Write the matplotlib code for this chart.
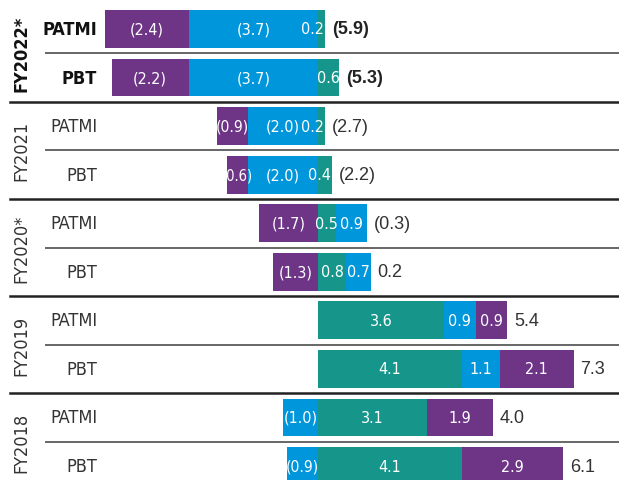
import matplotlib
matplotlib.use('Agg')
import matplotlib.pyplot as plt
import matplotlib.transforms as mtransforms

# ---- data ----
groups = ['FY2022*', 'FY2021', 'FY2020*', 'FY2019', 'FY2018']
metrics = ['PATMI', 'PBT']
# rows: (FY2022 PATMI, FY2022 PBT, FY2021 PATMI, FY2021 PBT, ...)
teal_vals = [0.2, 0.6, 0.2, 0.4, 0.5, 0.8, 3.6, 4.1, 3.1, 4.1]
blue_vals = [-3.7, -3.7, -2.0, -2.0, 0.9, 0.7, 0.9, 1.1, -1.0, -0.9]
purple_vals = [-2.4, -2.2, -0.9, -0.6, -1.7, -1.3, 0.9, 2.1, 1.9, 2.9]
totals = [-5.9, -5.3, -2.7, -2.2, -0.3, 0.2, 5.4, 7.3, 4.0, 6.1]

TEAL = '#16958A'
BLUE = '#0096DB'
PURPLE = '#6E3587'
TXT = '#333333'

NARROW = dict(family=['DejaVu Sans'], fontstretch='condensed')
REG = dict(family=['Liberation Sans', 'DejaVu Sans'])

W, H = 619, 481
fig = plt.figure(figsize=(W / 100, H / 100), dpi=100)
ax = fig.add_axes([0, 0, 1, 1])
ax.set_axis_off()

zero_px, ppu = 318, 35.0
ax.set_xlim(-zero_px / ppu, (W - zero_px) / ppu)
row0_px, pitch = 30, 48.56
ax.set_ylim(9 + (H - 30 - 9 * pitch) / pitch, -row0_px / pitch)

renderer = fig.canvas.get_renderer()


def fmt(v):
    return f"({abs(v):.1f})" if v < 0 else f"{v:.1f}"


series = [(teal_vals, TEAL), (blue_vals, BLUE), (purple_vals, PURPLE)]
n = len(totals)
bar_h = 0.78
SEG_FS = 11.5
for i in range(n):
    pos, neg = 0.0, 0.0
    bold = i < 2
    for vals, col in series:
        v = vals[i]
        if v >= 0:
            left = pos
            pos += v
        else:
            neg += v
            left = neg
        w = abs(v)
        ax.barh(i, w, left=left, height=bar_h, color=col, linewidth=0)
        if w < 0.45:
            ax.text(left + w - 0.02, i, fmt(v), ha='right', va='center',
                    color='white', fontsize=SEG_FS, **NARROW)
        else:
            t = ax.text(left + w / 2, i, fmt(v), ha='center', va='center',
                        color='white', fontsize=SEG_FS, **NARROW)
            if v < 0:
                tw = t.get_window_extent(renderer).width
                seg_px = w * ppu
                if tw > seg_px + 2:
                    t.set_fontsize(max(10.5, SEG_FS * (seg_px + 2) / tw))
    ax.annotate(fmt(totals[i]), xy=(max(pos, 0), i), xytext=(7, 0),
                textcoords='offset pixels', ha='left', va='center',
                color='#222222' if bold else TXT, fontsize=13, **REG,
                fontweight='bold' if bold else 'normal')

tr = mtransforms.blended_transform_factory(ax.transAxes, ax.transData)
for g, gname in enumerate(groups):
    bold = g == 0
    for m, mname in enumerate(metrics):
        r = 2 * g + m
        ax.text(97 / W, r, mname, transform=tr, ha='right', va='center',
                fontsize=13, **NARROW, color='#111111' if bold else TXT,
                fontweight='bold' if bold else 'normal')
    ax.text(21 / W, 2 * g + 0.5, gname, transform=tr, rotation=90,
            ha='center', va='center', fontsize=13, **NARROW,
            color='#111111' if bold else TXT,
            fontweight='bold' if bold else 'normal')
    ax.axhline(2 * g + 0.5, xmin=46 / W, xmax=1, color='#666666', lw=1.4)
    if g < len(groups) - 1:
        ax.axhline(2 * g + 1.5, xmin=10 / W, xmax=1, color='#222222', lw=1.8)

fig.savefig('out.png', dpi=100)
